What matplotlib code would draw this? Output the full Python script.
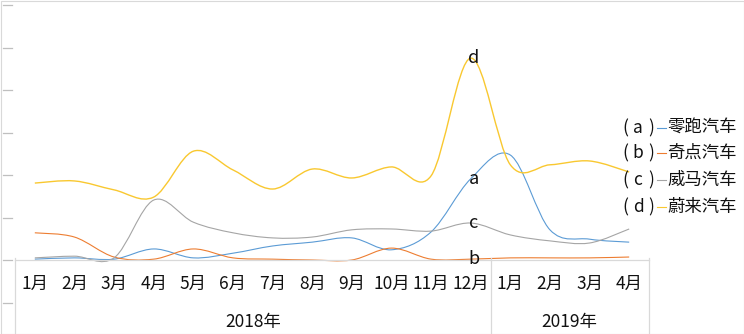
import matplotlib
matplotlib.use('Agg')
import matplotlib.pyplot as plt
import matplotlib.transforms as mtransforms
from matplotlib.path import Path
from matplotlib.patches import PathPatch, Rectangle
from matplotlib.lines import Line2D

plt.rcParams['font.family'] = ['Noto Sans CJK SC', 'DejaVu Sans']

# categories
months = ['1月', '2月', '3月', '4月', '5月', '6月', '7月', '8月', '9月', '10月', '11月', '12月',
          '1月', '2月', '3月', '4月']
years = ['2018年', '2019年']
year_spans = [(0, 11), (12, 15)]

# series (one grid step = 1 unit)
keys = ['a', 'b', 'c', 'd']
names = ['零跑汽车', '奇点汽车', '威马汽车', '蔚来汽车']
leapmotor = [0.02, 0.05, 0.02, 0.26, 0.05, 0.16, 0.33, 0.42, 0.52, 0.24, 0.66, 1.91, 2.47, 0.71, 0.49, 0.42]
singulato = [0.64, 0.54, 0.07, 0.02, 0.26, 0.05, 0.02, 0.00, 0.00, 0.28, 0.02, 0.02, 0.05, 0.05, 0.05, 0.07]
weltmeister = [0.05, 0.09, 0.05, 1.41, 0.89, 0.64, 0.52, 0.54, 0.71, 0.73, 0.68, 0.87, 0.59, 0.45, 0.40, 0.73]
nio = [1.81, 1.86, 1.65, 1.48, 2.56, 2.12, 1.67, 2.14, 1.93, 2.19, 1.98, 4.75, 2.24, 2.24, 2.33, 2.07]
series = [leapmotor, singulato, weltmeister, nio]
colors = ['#5B9BD5', '#ED7D31', '#A5A5A5', '#F9C830']
widths = [0.8, 0.8, 0.8, 1.0]


def smooth_path(ys):
    # excel-like smoothed line: cubic bezier through every point
    n = len(ys)
    pts = [(float(i), float(v)) for i, v in enumerate(ys)]
    verts = [pts[0]]
    codes = [Path.MOVETO]
    for i in range(n - 1):
        p0 = pts[max(i - 1, 0)]
        p1 = pts[i]
        p2 = pts[i + 1]
        p3 = pts[min(i + 2, n - 1)]
        c1 = (p1[0] + (p2[0] - p0[0]) / 6, p1[1] + (p2[1] - p0[1]) / 6)
        c2 = (p2[0] - (p3[0] - p1[0]) / 6, p2[1] - (p3[1] - p1[1]) / 6)
        verts += [c1, c2, p2]
        codes += [Path.CURVE4] * 3
    return Path(verts, codes)


W, H = 744, 334
fig = plt.figure(figsize=(W / 100, H / 100), dpi=100)
ax = fig.add_axes([15 / W, 74 / H, 634 / W, 255 / H])
ax.set_xlim(-0.5, len(months) - 0.5)
ax.set_ylim(0, 6)
ax.axis('off')

for vals, c, lw in zip(series, colors, widths):
    ax.add_patch(PathPatch(smooth_path(vals), fill=False, edgecolor=c, lw=lw, clip_on=False))

# point labels at December
for key, vals in zip(keys, series):
    ax.text(11.08, vals[11], key, ha='center', va='center', fontsize=13, color='#111111')

# category axis box
grid_c = '#D9D9D9'
tr_x = mtransforms.blended_transform_factory(ax.transData, fig.transFigure)
ax.add_line(Line2D([-0.5, 15.5], [74 / H, 74 / H], transform=tr_x, color=grid_c, lw=0.9, clip_on=False))
for xv in [-0.5, 11.5, 15.5]:
    ax.add_line(Line2D([xv, xv], [0, 76 / H], transform=tr_x, color=grid_c, lw=0.9, clip_on=False))

# stray value-axis tick marks
tr_y = mtransforms.blended_transform_factory(fig.transFigure, ax.transData)
for yv in range(-1, 7):
    ax.add_line(Line2D([3 / W, 12 / W], [yv, yv], transform=tr_y, color='#BFBFBF', lw=0.9, clip_on=False))

tr_lab = mtransforms.blended_transform_factory(ax.transData, ax.transAxes)
for i, m in enumerate(months):
    ax.text(i, -24 / 255, m, transform=tr_lab, ha='center', va='center', fontsize=12.5, color='#111111')
for yr, (s, e) in zip(years, year_spans):
    ax.text((s + e) / 2, -62 / 255, yr, transform=tr_lab, ha='center', va='center', fontsize=12.5, color='#111111')

# legend on the right
row_y = [128, 153, 180, 207]
for key, name, c, yc in zip(keys, names, colors, row_y):
    fy = 1 - yc / H
    fig.text(625 / W, fy, '(', ha='center', va='center', fontsize=12.5, color='#111111')
    fig.text(638 / W, fy, key, ha='center', va='center', fontsize=12.5, color='#111111')
    fig.text(651 / W, fy, ')', ha='center', va='center', fontsize=12.5, color='#111111')
    fig.add_artist(Line2D([657 / W, 666 / W], [fy, fy], color=c, lw=0.8))
    fig.text(667 / W, fy, name, ha='left', va='center', fontsize=12.5, color='#111111')

fig.add_artist(Rectangle((0.5 / W, 0.5 / H), (W - 1) / W, (H - 1) / H, transform=fig.transFigure,
                         fill=False, ec=grid_c, lw=0.8))

fig.savefig('out.png', dpi=100)
